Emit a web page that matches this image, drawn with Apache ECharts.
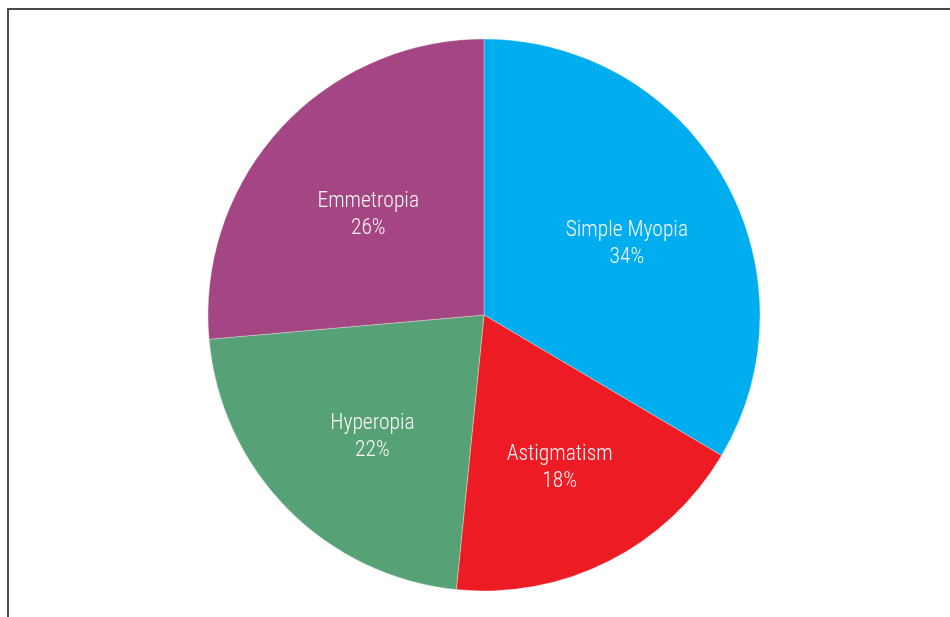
<!DOCTYPE html>
<html>
<head>
<meta charset="utf-8">
<script src="https://cdn.jsdelivr.net/npm/echarts@6/dist/echarts.min.js"></script>
<style>
html,body{margin:0;padding:0;background:#fff;}
#chart{width:950px;height:617px;}
</style>
</head>
<body>
<div id="chart"></div>
<script>
const categories = ["Simple Myopia", "Astigmatism", "Hyperopia", "Emmetropia"];
const values = [33.5, 18.1, 22.0, 26.4];
// percentages as printed in the labels
const labelPercents = [34, 18, 22, 26];
const colors = ["#00AEEF", "#ED1C24", "#56A276", "#A34683"];

const chart = echarts.init(document.getElementById('chart'));
const sliceData = categories.map((c, i) => ({ name: c, value: values[i], itemStyle: { color: colors[i] } }));
const labelData = categories.map((c, i) => ({ name: c, value: values[i], pct: labelPercents[i], itemStyle: { color: 'rgba(0,0,0,0)' } }));
const font = "'Roboto Condensed', 'Liberation Sans Narrow', 'Arial Narrow', sans-serif";

chart.setOption({
  animation: false,
  graphic: [{
    type: 'polyline',
    shape: { points: [[8, 617], [8, 9], [950, 9]] },
    style: { stroke: '#4a4a4a', lineWidth: 2, fill: null }
  }],
  series: [{
    type: 'pie',
    center: [484, 315],
    radius: [0, 276],
    startAngle: 90,
    clockwise: true,
    silent: true,
    data: sliceData,
    itemStyle: { borderColor: 'rgba(255,255,255,0.3)', borderWidth: 1 },
    label: { show: false },
    labelLine: { show: false }
  }, {
    type: 'pie',
    center: [487, 324],
    radius: [40, 276],
    startAngle: 90,
    clockwise: true,
    silent: true,
    data: labelData,
    itemStyle: { borderWidth: 0 },
    label: {
      show: true,
      position: 'inside',
      formatter: p => p.name + '\n' + p.data.pct + '%',
      color: '#fdf6f8',
      fontFamily: font,
      fontWeight: 300,
      fontSize: 21.5,
      lineHeight: 27,
      align: 'center'
    },
    labelLine: { show: false }
  }]
});
</script>
</body>
</html>
